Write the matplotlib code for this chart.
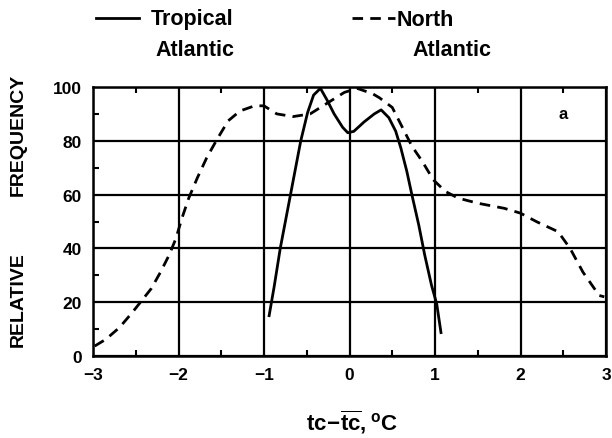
import matplotlib
matplotlib.use("Agg")
import matplotlib.pyplot as plt
from matplotlib.ticker import MultipleLocator

plt.rcParams['font.family'] = ['Liberation Sans', 'DejaVu Sans']
plt.rcParams['font.weight'] = 'bold'
plt.rcParams['mathtext.fontset'] = 'custom'
plt.rcParams['mathtext.rm'] = 'Liberation Sans:bold'
plt.rcParams['mathtext.bf'] = 'Liberation Sans:bold'
plt.rcParams['mathtext.it'] = 'Liberation Sans:bold'

# Tropical Atlantic (solid)
trop_x = [-0.94, -0.88, -0.81, -0.75, -0.69, -0.57, -0.49, -0.42, -0.34, -0.26,
          -0.18, -0.08, -0.02, 0.05, 0.17, 0.29, 0.37, 0.46, 0.54, 0.60, 0.67,
          0.73, 0.81, 0.88, 0.96, 1.02, 1.07]
trop_y = [15, 26, 40, 50, 60, 80, 90.5, 97, 99.5, 95,
          90, 85, 83, 83.5, 87, 90, 91.5, 88.6, 83.6, 77.4, 68.7,
          59.9, 48.7, 37.5, 26.2, 19.4, 8.7]

# North Atlantic (dashed)
north_x = [-2.98, -2.85, -2.69, -2.54, -2.46, -2.32, -2.21, -2.11, -2.03, -1.96,
           -1.88, -1.78, -1.67, -1.55, -1.42, -1.28, -1.11, -1.0, -0.85, -0.66,
           -0.46, -0.26, -0.06, 0.09, 0.27, 0.35, 0.50, 0.62, 0.73, 0.85, 0.98,
           1.12, 1.27, 1.50, 1.81, 2.0, 2.19, 2.44, 2.58, 2.73, 2.92, 2.98]
north_y = [3.7, 6.2, 10.6, 16.2, 19.4, 25, 31.2, 37.5, 43.7, 51.2,
           58.7, 66.2, 73.7, 80.5, 87.4, 91.1, 93, 93, 90, 89,
           90, 94, 98, 99.5, 97.5, 96, 92.4, 84.9, 78, 72.4, 65.5,
           61.2, 58.7, 56.8, 54.9, 53.1, 49.9, 46.2, 40, 31.2, 22.5, 22]

x_ticks = [-3, -2, -1, 0, 1, 2, 3]
x_ticklabels = ['\u22123', '\u22122', '\u22121', '0', '1', '2', '3']
y_ticks = [0, 20, 40, 60, 80, 100]

W, H = 612, 439
fig = plt.figure(figsize=(6.12, 4.39), dpi=100)
ax = fig.add_axes([93 / W, 1 - 357 / H, (606 - 93) / W, (357 - 88) / H])

ax.plot(trop_x, trop_y, color='black', lw=2.0, solid_joinstyle='round')
ax.plot(north_x, north_y, color='black', lw=2.0, linestyle=(0, (3.8, 2.6)))

ax.set_xlim(-3, 3)
ax.set_ylim(0, 100)
ax.set_xticks(x_ticks)
ax.set_yticks(y_ticks)
ax.set_xticklabels(x_ticklabels)
ax.xaxis.set_minor_locator(MultipleLocator(0.5))
ax.yaxis.set_minor_locator(MultipleLocator(10))
ax.grid(True, which='major', color='black', lw=1.6)
ax.tick_params(which='major', direction='in', length=0, labelsize=12.5, pad=8)
ax.tick_params(which='minor', direction='in', length=4, width=1.5, top=True, right=False)
for s in ax.spines.values():
    s.set_linewidth(1.8)
for lab in ax.get_xticklabels() + ax.get_yticklabels():
    lab.set_fontweight('bold')

ax.text(2.5, 90, 'a', ha='center', va='center', fontsize=12, fontweight='bold')

def ft(x, y, s, **kw):
    fig.text(x / W, 1 - y / H, s, **kw)

# legend
fig.lines.append(plt.Line2D([96 / W, 139 / W], [1 - 19 / H, 1 - 19 / H],
                            transform=fig.transFigure, color='black', lw=2.0))
fig.lines.append(plt.Line2D([352 / W, 395 / W], [1 - 19 / H, 1 - 19 / H],
                            transform=fig.transFigure, color='black', lw=2.0,
                            linestyle=(0, (3.8, 2.6))))
ft(151, 20, 'Tropical', fontsize=15.5, fontweight='bold', va='center', ha='left')
ft(155, 50, 'Atlantic', fontsize=15.5, fontweight='bold', va='center', ha='left')
ft(397, 20, 'North', fontsize=15.5, fontweight='bold', va='center', ha='left')
ft(412, 50, 'Atlantic', fontsize=15.5, fontweight='bold', va='center', ha='left')

# y label
ft(18, 300, 'RELATIVE', fontsize=14, fontweight='bold', rotation=90, va='center', ha='center')
ft(18, 135, 'FREQUENCY', fontsize=14, fontweight='bold', rotation=90, va='center', ha='center')

# x label
ft(352, 422, r'$\mathrm{tc}\!-\!\overline{\mathrm{tc}},{}^{\mathrm{o}}\mathrm{C}$',
   fontsize=16, va='center', ha='center')

fig.savefig('out.png', dpi=100)
